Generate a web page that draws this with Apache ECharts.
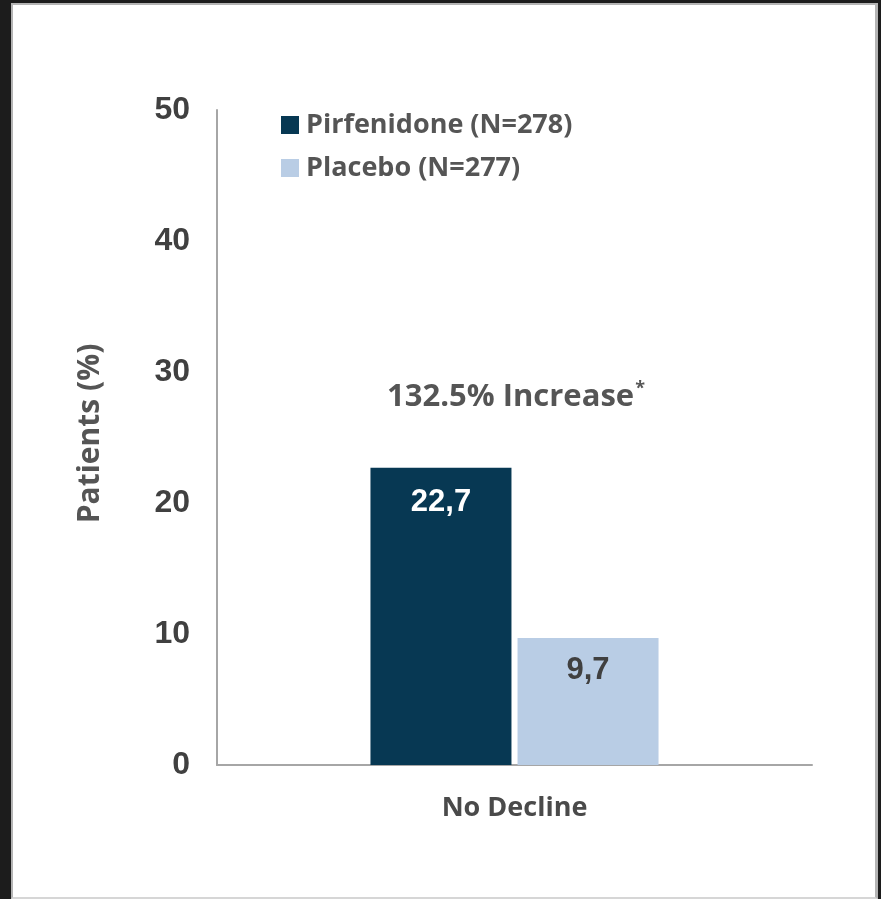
<!DOCTYPE html>
<html>
<head>
<meta charset="utf-8">
<script src="https://cdn.jsdelivr.net/npm/echarts@6/dist/echarts.min.js"></script>
<style>
  html, body { margin: 0; padding: 0; background: #1c1c1c; }
  .frame {
    position: absolute; left: 11px; top: 3px; width: 867px; height: 896px;
    box-sizing: border-box; background: #fff;
    border: 2px solid #b4b4b4; border-right-width: 3px; border-bottom-color: #d6d6d6;
  }
  #chart-view { position: absolute; left: 0; top: 0; width: 881px; height: 899px; }
</style>
</head>
<body>
<div class="frame"></div>
<div id="chart-view"></div>
<script>
  // data
  const categories = ['No Decline']
  const seriesNames = ['Pirfenidone (N=278)', 'Placebo (N=277)']
  const pirfenidone = [22.7]
  const placebo = [9.7]
  const yTicks = [0, 10, 20, 30, 40, 50]
  const note = '132.5% Increase'

  const chartLine = echarts.init(document.getElementById('chart-view'))

  const fmt = p => String(p.value).replace('.', ',')

  let option = {
    animation: false,
    color: ['#073853', '#b9cde5'],
    legend: {
      left: 281,
      top: 111,
      padding: 0,
      orient: 'vertical',
      itemWidth: 18,
      itemHeight: 18,
      itemGap: 15,
      icon: 'rect',
      data: seriesNames,
      textStyle: {
        fontFamily: 'Open Sans',
        fontWeight: 'bold',
        fontSize: 27,
        lineHeight: 28,
        color: '#555555',
        padding: [0, 0, 0, 2]
      }
    },
    grid: {
      left: 217,
      right: 69,
      top: 110,
      bottom: 134
    },
    xAxis: {
      type: 'category',
      data: categories,
      axisLine: { lineStyle: { color: '#a6a6a6', width: 2 } },
      axisTick: { show: false },
      axisLabel: {
        margin: 30,
        fontFamily: 'Open Sans',
        fontWeight: 'bold',
        fontSize: 27,
        color: '#4a4a4a'
      }
    },
    yAxis: {
      type: 'value',
      min: yTicks[0],
      max: yTicks[yTicks.length - 1],
      interval: 10,
      name: 'Patients (%)',
      nameLocation: 'middle',
      nameGap: 112,
      nameTextStyle: {
        fontFamily: 'Open Sans',
        fontWeight: 'bold',
        fontSize: 30,
        color: '#555555',
        padding: [0, 0, 0, 8]
      },
      axisLine: { show: true, lineStyle: { color: '#a6a6a6', width: 2 } },
      axisTick: { show: false },
      splitLine: { show: false },
      axisLabel: {
        margin: 27,
        fontFamily: 'Liberation Sans',
        fontWeight: 'bold',
        fontSize: 32,
        color: '#404040',
        padding: [8, 0, 0, 0]
      }
    },
    graphic: [
      {
        type: 'text',
        left: 387,
        top: 380,
        style: {
          text: '{a|' + note + '}{s|*}',
          rich: {
            a: { fontFamily: 'Open Sans', fontWeight: 'bold', fontSize: 31, fill: '#555555' },
            s: { fontFamily: 'Open Sans', fontWeight: 'bold', fontSize: 18, fill: '#555555', verticalAlign: 'top', padding: [0, 0, 16, 1] }
          }
        }
      }
    ],
    series: [
      {
        name: seriesNames[0],
        type: 'bar',
        data: pirfenidone,
        barWidth: 141,
        barGap: '4.3%',
        label: {
          show: true,
          position: 'insideTop',
          distance: 19,
          formatter: fmt,
          fontFamily: 'Liberation Sans',
          fontWeight: 'bold',
          fontSize: 31,
          color: '#ffffff'
        }
      },
      {
        name: seriesNames[1],
        type: 'bar',
        data: placebo,
        barWidth: 141,
        label: {
          show: true,
          position: 'insideTop',
          distance: 17,
          formatter: fmt,
          fontFamily: 'Liberation Sans',
          fontWeight: 'bold',
          fontSize: 31,
          color: '#404040'
        }
      }
    ]
  }

  chartLine.setOption(option)
</script>
</body>
</html>
